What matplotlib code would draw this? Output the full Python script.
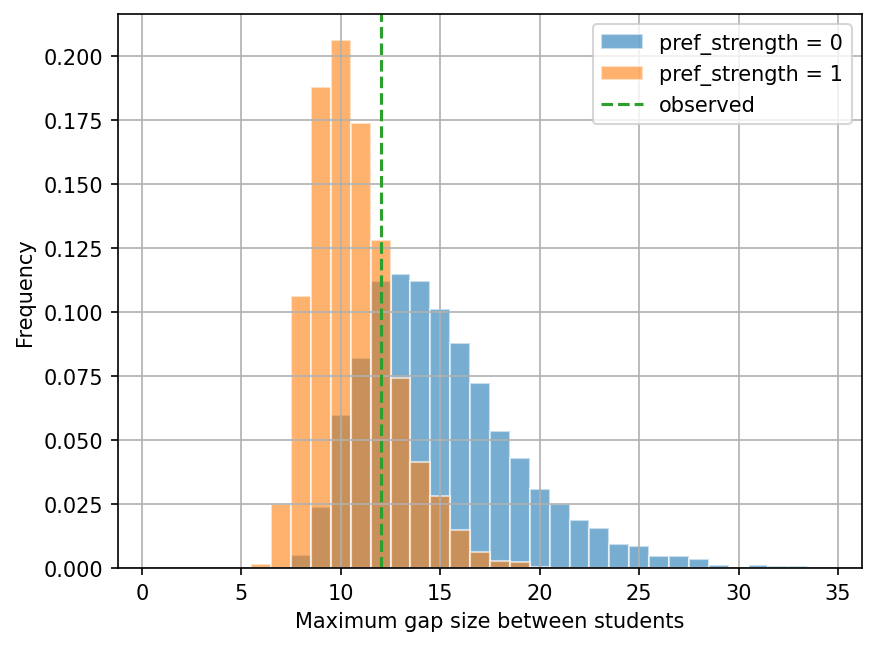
import numpy as np
import matplotlib
matplotlib.use("Agg")
import matplotlib.pyplot as plt

# integer gap sizes (bin centres), bins of width 1
gap_sizes = np.arange(1, 35)

# normalised frequencies, bins 1..34
freq_pref0 = [0, 0, 0, 0, 0, 0, 0, 0.0049, 0.0237, 0.0597, 0.0818, 0.112,
              0.1146, 0.1119, 0.1012, 0.0877, 0.0721, 0.0534, 0.0429, 0.0308,
              0.0249, 0.0189, 0.0157, 0.0095, 0.0087, 0.0048, 0.0048, 0.0036,
              0.0013, 0.0005, 0.0013, 0.0009, 0.0009, 0.0004]
freq_pref1 = [0, 0, 0, 0, 0, 0.0017, 0.025, 0.106, 0.1877, 0.206, 0.1736,
              0.128, 0.0743, 0.0413, 0.0281, 0.0147, 0.0061, 0.0027, 0.0022,
              0.0003, 0.0001, 0, 0, 0, 0, 0, 0, 0, 0, 0, 0, 0, 0, 0]
series_labels = ["pref_strength = 0", "pref_strength = 1"]
observed_gap = 12

edges = np.arange(0.5, 35.5, 1.0)

fig, ax = plt.subplots(figsize=(5.84, 4.313), dpi=150)
fig.subplots_adjust(left=0.1347, right=0.984, top=0.977, bottom=0.1206)

for vals, lab in zip([freq_pref0, freq_pref1], series_labels):
    ax.hist(gap_sizes, bins=edges, weights=vals, alpha=0.6,
            edgecolor="white", label=lab)

ax.axvline(observed_gap, color="C2", linestyle="--", label="observed")

ax.grid(True)
ax.set_xlabel("Maximum gap size between students")
ax.set_ylabel("Frequency")
ax.legend(loc="upper right")

fig.savefig("out.png", dpi=150)
